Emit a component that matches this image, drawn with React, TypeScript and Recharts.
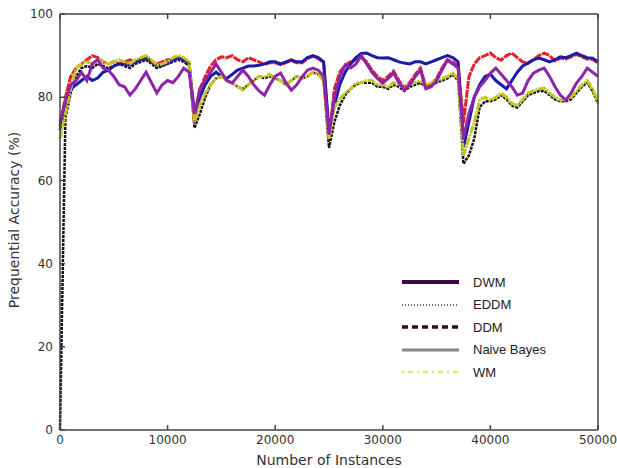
import React from "react";
import {
  LineChart,
  Line,
  XAxis,
  YAxis,
} from "recharts";

// instances sampled every 500 from 0 to 50000
const instances = Array.from({ length: 101 }, (_, i) => i * 500);

const dwm = [
  74, 79, 83, 84, 86, 84, 88, 89, 87, 86.5, 85, 83, 82.5, 80.5, 82, 84, 86, 83.5, 81, 83, 84, 83.5, 85, 87, 86,
  76, 82, 84, 86, 88, 86, 84, 83.4, 85, 86.5, 85, 83, 81.5, 80.5, 83, 85, 85.8, 83.5, 81.7, 83, 84.9, 86.5, 87, 86.5, 85,
  71, 80, 85, 87.7, 87, 88, 90, 88, 86, 84.5, 83.4, 84.5, 85.8, 83.5, 81.7, 83, 84.9, 86.5, 82, 82.5, 84, 86.5, 88.9, 88, 87,
  70, 76, 80, 82.5, 84, 85.8, 87, 85.5, 84, 82.5, 80.5, 81, 84, 85.8, 86.5, 87, 85, 82.5, 80.5, 79.3, 81, 83.4, 85, 87, 86, 85,
];

const eddm = [
  0, 75, 81, 85, 87, 87.5, 87, 88, 87.5, 87, 87.5, 88, 87.5, 87, 88, 88.5, 89, 88, 87, 87.5, 88, 88.5, 89, 88.5, 87.5,
  72.6, 76, 80, 83, 84.5, 85, 84, 83.5, 82.5, 82, 83, 84, 85, 84.5, 85, 84.5, 84, 83, 84, 85, 84.5, 85, 86, 85.5, 84,
  67.8, 74, 78, 80.5, 82, 83, 83.5, 83.5, 83.5, 82.5, 82.5, 82, 83, 82.5, 81.5, 82.5, 83, 83.5, 82.5, 83, 83.5, 84, 84.5, 85.5, 84,
  64, 66, 70, 77.6, 79, 79, 79.5, 80.5, 79.5, 78, 77.5, 79, 80.5, 81, 81.5, 81.5, 80.5, 79.5, 79, 79, 79.5, 81, 82.5, 83.5, 81.5, 78.5,
];

const ddm = [
  73, 80, 85, 87, 88, 89, 90, 89.5, 88.5, 88, 88.5, 88, 88.5, 89, 88.5, 89, 89.5, 88.5, 88, 88.5, 89, 89, 89.5, 89, 88,
  74, 82, 85, 87.5, 89, 89.7, 89.5, 90, 89, 88.5, 89.5, 89, 88.5, 87.8, 88.3, 88.3, 87.8, 88.3, 88.8, 88.3, 88.3, 89.3, 89.8, 89.3, 88.3,
  70, 82, 86, 87.7, 88.5, 89, 89.5, 88.5, 86.5, 85, 84, 85, 86.3, 84, 82.2, 83.5, 85.4, 87, 82.5, 83, 84.5, 87, 89, 88.5, 87.5,
  73.8, 84.9, 88, 89.5, 90, 90.6, 89.5, 88.9, 90, 90.6, 89.5, 88.5, 88.2, 89, 90, 90.6, 90, 88.7, 89.4, 89.2, 89.7, 90.3, 89.7, 89.2, 89.1, 88.2,
];

const naiveBayes = [
  72, 78, 82, 83, 84, 85, 84, 84.6, 86, 86.5, 87.5, 88, 88, 87.7, 88.5, 89, 89.5, 88.7, 87.5, 87.7, 88.2, 89, 89.5, 89, 88,
  76, 80, 83, 85, 86, 85, 84.5, 85.5, 86.5, 87, 87.5, 87.5, 87.7, 88, 88.5, 88.5, 88, 88.5, 89, 88.5, 88.5, 89.5, 90, 89.5, 88.5,
  72, 78, 83, 86, 88, 89.5, 90.5, 90.6, 90, 89.5, 89.4, 89.5, 89, 88.5, 88.2, 88, 88.5, 88.5, 88, 88.5, 89, 89.5, 90, 89.5, 88.5,
  68, 74, 80, 83, 85, 85.5, 84, 83, 82, 84, 86, 87.5, 88.2, 89, 89.4, 89, 88.5, 89, 89.7, 89.5, 90, 90.6, 90, 89.5, 89.4, 88.5,
];

const wm = [
  70, 76, 82, 87, 88, 88.5, 88, 89, 88.5, 88, 88.5, 89, 88.5, 88, 89, 89.5, 90, 89, 87.7, 88, 88.5, 89.5, 90, 89.5, 88.5,
  74, 78, 81, 83, 84.5, 85, 84, 83.5, 82.5, 81.7, 83, 84, 85, 84.9, 85.5, 84.5, 84, 83, 84, 85, 84.5, 85, 86, 85.5, 84,
  70, 77.6, 79.5, 81, 82, 83.4, 83.5, 84, 84, 83, 83, 82.5, 83.5, 83, 82, 83, 83.5, 84, 83, 83.5, 84, 84.5, 85, 85.8, 84.5,
  66, 70, 74, 79.3, 80, 79.3, 80, 81, 80, 78.5, 78, 79.5, 81, 81.5, 82, 82.2, 81, 80, 79.3, 79.5, 80, 81.5, 83, 84, 82, 79,
];

const xTicks = [0, 10000, 20000, 30000, 40000, 50000];
const yTicks = [0, 20, 40, 60, 80, 100];

const chartData = instances.map((n, i) => ({
  n,
  dwm: dwm[i],
  eddm: eddm[i],
  ddm: ddm[i],
  nb: naiveBayes[i],
  wm: wm[i],
}));

// legend swatches as drawn in the original figure
const legendItems = [
  { name: "DWM", color: "#3b0b45", width: 4, dash: undefined },
  { name: "EDDM", color: "#666", width: 2, dash: "1 2" },
  { name: "DDM", color: "#3a0a10", width: 3.5, dash: "6 4" },
  { name: "Naive Bayes", color: "#888", width: 3, dash: undefined },
  { name: "WM", color: "#dfe66a", width: 2.5, dash: "2 4 5 4" },
];

const font = "'DejaVu Sans', sans-serif";
const tickStyle = { fontSize: 12, fill: "#333", fontFamily: font };

function LegendBox() {
  return (
    <div
      style={{
        position: "absolute",
        left: 401,
        top: 271,
        fontFamily: "'Liberation Sans', Arial, sans-serif",
        fontSize: 13,
        color: "#222",
      }}
    >
      {legendItems.map((it) => (
        <div key={it.name} style={{ display: "flex", alignItems: "center", height: 22.5 }}>
          <svg width={60} height={10} style={{ marginRight: 12 }}>
            <line
              x1={1}
              y1={5}
              x2={58}
              y2={5}
              stroke={it.color}
              strokeWidth={it.width}
              strokeDasharray={it.dash}
            />
          </svg>
          <span>{it.name}</span>
        </div>
      ))}
    </div>
  );
}

export default function App() {
  return (
    <div style={{ position: "absolute", left: 0, top: 0, width: 617, height: 468, background: "#fff" }}>
      <LineChart
        width={617}
        height={468}
        data={chartData}
        margin={{ top: 13, right: 18, left: 0, bottom: 0 }}
      >
        <XAxis
          dataKey="n"
          type="number"
          domain={[0, 50000]}
          ticks={xTicks}
          height={38}
          tick={tickStyle}
          tickSize={-5}
          tickMargin={10}
          stroke="#444"
          strokeWidth={1.5}
          label={{
            value: "Number of Instances",
            position: "insideBottom",
            offset: 3,
            fontSize: 14,
            fill: "#333",
            fontFamily: font,
          }}
        />
        <XAxis
          xAxisId="top"
          dataKey="n"
          type="number"
          orientation="top"
          domain={[0, 50000]}
          ticks={xTicks}
          height={1}
          tickSize={-5}
          tickFormatter={() => ""}
          stroke="#444"
          strokeWidth={1.5}
        />
        <YAxis
          type="number"
          domain={[0, 100]}
          ticks={yTicks}
          width={60}
          tick={tickStyle}
          tickSize={-5}
          tickMargin={12}
          stroke="#444"
          strokeWidth={1.5}
          label={{
            content: () => (
              <text
                x={15}
                y={220}
                transform="rotate(-90 15 220)"
                textAnchor="middle"
                dominantBaseline="middle"
                fontSize={14}
                fill="#333"
                fontFamily={font}
              >
                Prequential Accuracy (%)
              </text>
            ),
          }}
        />
        <YAxis
          yAxisId="right"
          orientation="right"
          type="number"
          domain={[0, 100]}
          ticks={yTicks}
          width={1}
          tickSize={-5}
          tickFormatter={() => ""}
          stroke="#444"
          strokeWidth={1.5}
        />
        <Line
          dataKey="eddm"
          stroke="#111"
          strokeWidth={2.5}
          strokeDasharray="3 1"
          dot={false}
          isAnimationActive={false}
        />
        <Line
          dataKey="ddm"
          stroke="#e3202b"
          strokeWidth={3}
          strokeDasharray="8 1"
          dot={false}
          isAnimationActive={false}
        />
        <Line
          dataKey="nb"
          stroke="#1c1ca8"
          strokeWidth={3}
          dot={false}
          isAnimationActive={false}
        />
        <Line
          dataKey="wm"
          stroke="#c4c81e"
          strokeWidth={3}
          strokeDasharray="8 1 2 1"
          dot={false}
          isAnimationActive={false}
        />
        <Line
          dataKey="dwm"
          stroke="#8e24aa"
          strokeWidth={3}
          dot={false}
          isAnimationActive={false}
        />
      </LineChart>
      <LegendBox />
    </div>
  );
}
